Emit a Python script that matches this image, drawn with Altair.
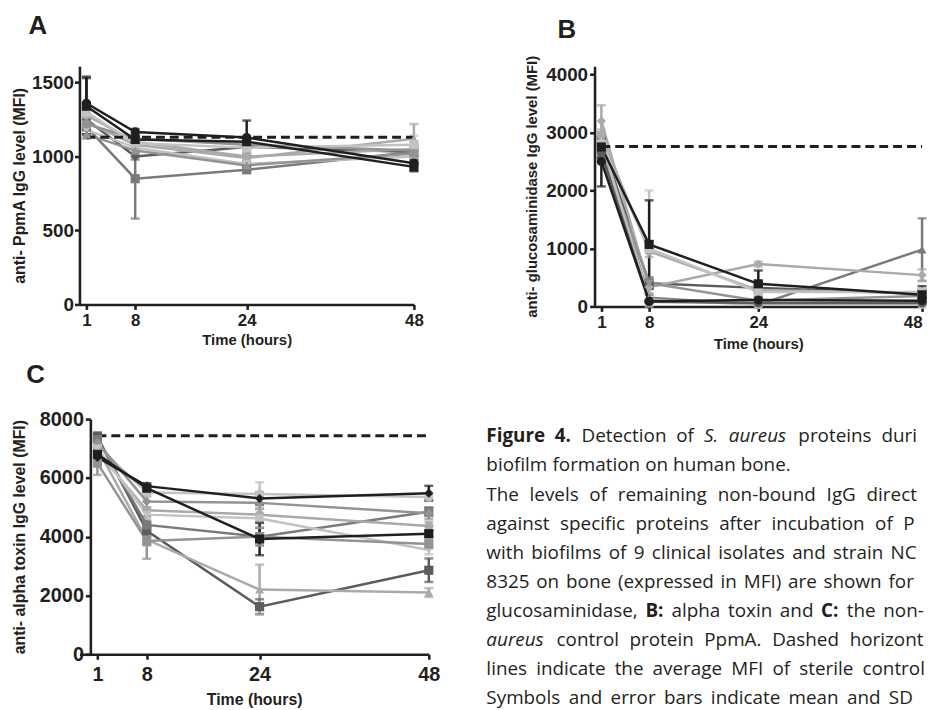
import re
import altair as alt
import pandas as pd

# ------------------------------------------------------------------ data
TIMES = [1, 8, 24, 48]

BLACK = "#1f1f1f"
DARK = "#5c5c5c"
MID = "#7a7a7a"
GRAY = "#939393"
LIGHT = "#aaaaaa"
PALE = "#c2c2c2"

# Panel A: anti-PpmA IgG (MFI)
A_NAMES = [f"A{i}" for i in range(1, 11)]
A_MEANS = [
    [1250, 1000, 1065, 1030],
    [1200, 850, 910, 1030],
    [1280, 1100, 1000, 1050],
    [1230, 1080, 990, 1120],
    [1180, 1060, 950, 1000],
    [1220, 1120, 1080, 1040],
    [1300, 1090, 1060, 1080],
    [1150, 1040, 940, 1020],
    [1340, 1115, 1100, 930],
    [1360, 1166, 1128, 955],
]
A_SDS = [
    [40, 20, 30, 30],
    [50, 270, 20, 40],
    [40, 30, 40, 50],
    [50, 30, 30, 100],
    [30, 30, 30, 30],
    [40, 30, 30, 40],
    [50, 30, 30, 60],
    [30, 40, 30, 60],
    [190, 15, 30, 30],
    [180, 20, 115, 20],
]
A_COLORS = [DARK, MID, LIGHT, LIGHT, PALE, GRAY, PALE, GRAY, BLACK, BLACK]
A_SHAPES = ["diamond", "square", "circle", "triangle-up", "triangle-down",
            "circle", "square", "triangle-up", "square", "circle"]
A_CONTROL = 1130

# Panel B: anti-glucosaminidase IgG (MFI)
B_NAMES = [f"B{i}" for i in range(1, 11)]
B_MEANS = [
    [2850, 400, 320, 220],
    [2900, 150, 30, 980],
    [2950, 950, 280, 230],
    [3200, 330, 730, 540],
    [2800, 1000, 250, 250],
    [2700, 400, 100, 180],
    [2850, 120, 30, 30],
    [2650, 80, 60, 60],
    [2750, 1070, 390, 200],
    [2500, 90, 110, 100],
]
B_SDS = [
    [100, 100, 100, 60],
    [100, 50, 20, 540],
    [100, 100, 60, 60],
    [270, 100, 40, 100],
    [150, 1000, 60, 60],
    [100, 80, 30, 40],
    [80, 30, 20, 20],
    [100, 20, 20, 20],
    [180, 760, 230, 150],
    [430, 20, 30, 20],
]
B_COLORS = [DARK, MID, LIGHT, LIGHT, PALE, GRAY, PALE, DARK, BLACK, BLACK]
B_SHAPES = ["square", "triangle-up", "circle", "diamond", "square",
            "triangle-down", "triangle-up", "circle", "square", "circle"]
B_CONTROL = 2760

# Panel C: anti-alpha toxin IgG (MFI)
C_NAMES = [f"C{i}" for i in range(1, 11)]
C_MEANS = [
    [7400, 4200, 1620, 2860],
    [7000, 3900, 2200, 2100],
    [7300, 4400, 4000, 4850],
    [7100, 5500, 5450, 5350],
    [7200, 5200, 5150, 4800],
    [6900, 4900, 4750, 4360],
    [7000, 4750, 4620, 3550],
    [6500, 3850, 4000, 3750],
    [6800, 5650, 3920, 4100],
    [6700, 5720, 5300, 5480],
]
C_SDS = [
    [150, 200, 250, 400],
    [150, 200, 850, 150],
    [150, 300, 300, 150],
    [150, 150, 400, 100],
    [150, 200, 200, 200],
    [150, 300, 200, 150],
    [200, 150, 150, 150],
    [400, 600, 300, 150],
    [150, 100, 550, 100],
    [150, 100, 200, 250],
]
C_COLORS = [DARK, LIGHT, MID, PALE, GRAY, LIGHT, PALE, GRAY, BLACK, BLACK]
C_SHAPES = ["square", "triangle-up", "square", "circle", "diamond",
            "circle", "triangle-down", "square", "square", "diamond"]
C_CONTROL = 7430

# Caption (**bold**, _italic_), and whether each line is justified
CAPTION_LINES = [
    "**Figure 4.** Detection of _S. aureus_ proteins during",
    "biofilm formation on human bone.",
    "The levels of remaining non-bound IgG directed",
    "against specific proteins after incubation of PHS",
    "with biofilms of 9 clinical isolates and strain NCTC",
    "8325 on bone (expressed in MFI) are shown for **A:**",
    "glucosaminidase, **B:** alpha toxin and **C:** the non-_S._",
    "_aureus_ control protein PpmA. Dashed horizontal",
    "lines indicate the average MFI of sterile controls.",
    "Symbols and error bars indicate mean and SD of",
]
CAPTION_JUSTIFY = [True, False, True, True, True, True, True, True, True, True]

# ------------------------------------------------------------------ styling / layout
FONT = "Liberation Sans"
CAP_FONT = "Open Sans"
CAP_SIZE = 19
INK = "#231f20"

# Open Sans advance widths (units per 2048 em), used to lay out the justified caption
_W = {" ": 532, ".": 545, ",": 502, ":": 545, "-": 659, "(": 596, ")": 596}
_W.update({d: 1171 for d in "0123456789"})
_W.update(dict(zip("abcdefghijklmnopqrstuvwxyz",
                   [1139, 1255, 975, 1255, 1149, 694, 1122, 1257, 518, 518, 1075, 518, 1905,
                    1257, 1237, 1255, 1255, 836, 977, 723, 1257, 1026, 1593, 1073, 1028, 977])))
_W.update(dict(zip("ABCDEFGHIJKLMNOPQRSTUVWXYZ",
                   [1296, 1327, 1292, 1493, 1139, 1057, 1491, 1511, 571, 547, 1257, 1071, 1849,
                    1544, 1595, 1233, 1595, 1266, 1124, 1133, 1491, 1219, 1896, 1182, 1147, 1169])))
STYLE_FACTOR = {"normal": 1.0, "bold": 1.07, "italic": 0.98}


def text_width(s, style):
    return sum(_W.get(ch, 1150) for ch in s) / 2048 * CAP_SIZE * STYLE_FACTOR[style]


CAP_WIDTH = 456     # justified column width (the column runs past the picture edge)
CAP_BOX_W = 447     # visible part of the caption panel
CAP_BASE0 = 23.5    # first baseline below the panel top
LINE_H = 29.3


def parse_words(line):
    words, cur = [], []
    for m in re.finditer(r"\*\*(.+?)\*\*|_(.+?)_|([^*_]+)", line):
        if m.group(1) is not None:
            txt, st = m.group(1), "bold"
        elif m.group(2) is not None:
            txt, st = m.group(2), "italic"
        else:
            txt, st = m.group(3), "normal"
        for k, p in enumerate(txt.split(" ")):
            if k > 0 and cur:
                words.append(cur)
                cur = []
            if p:
                cur.append((p, st))
    if cur:
        words.append(cur)
    return words


cap_recs = []
space = text_width(" ", "normal")
for i, (line, just) in enumerate(zip(CAPTION_LINES, CAPTION_JUSTIFY)):
    words = parse_words(line)
    widths = [sum(text_width(t, s) for t, s in w) for w in words]
    gap = space
    if just and len(words) > 1:
        gap = max(space * 0.8, (CAP_WIDTH - sum(widths)) / (len(words) - 1))
    x = 0.0
    for w, wd in zip(words, widths):
        px = x
        for t, s in w:
            if px < CAP_BOX_W - 4:
                cap_recs.append({"text": t, "style": s, "px": px,
                                 "py": CAP_BASE0 + i * LINE_H,
                                 "lim": CAP_BOX_W - px})
            px += text_width(t, s)
        x += wd + gap
cap_df = pd.DataFrame(cap_recs)


def panel(names, means, sds, colors, shapes, control, xmin, ymax, yvals, ytitle, sty):
    recs = []
    for n, m, s, c in zip(names, means, sds, colors):
        for t, v, e in zip(TIMES, m, s):
            recs.append({"series": n, "time": t, "value": v,
                         "lo": max(v - e, 0), "hi": v + e, "top": c == BLACK})
    df = pd.DataFrame(recs)
    caps = pd.concat([df.assign(cap=df["lo"]), df.assign(cap=df["hi"])])
    ctrl = pd.DataFrame({"t0": [TIMES[0]], "t1": [TIMES[-1]], "ctrl": [control]})

    common = dict(domainColor=INK, domainWidth=2.6, tickColor=INK, tickWidth=2.6,
                  tickSize=5, grid=False, labelFont=FONT, labelFontWeight="bold",
                  labelColor=INK, titleFont=FONT, titleFontWeight="bold",
                  titleColor=INK)
    xax = alt.Axis(values=TIMES, title="Time (hours)", labelFontSize=sty["xl"],
                   titleFontSize=sty["xt"], labelPadding=sty["xlp"],
                   titlePadding=sty["xtp"], labelFlush=sty["flush"], format="d", **common)
    yax = alt.Axis(values=yvals, title=ytitle, labelFontSize=sty["yl"],
                   titleFontSize=sty["yt"], labelPadding=sty["ylp"],
                   titlePadding=sty["ytp"], labelFlush=False, format="d",
                   offset=sty["yoff"], **common)
    xs = alt.Scale(domain=[xmin, 48], nice=False, zero=False)
    ys = alt.Scale(domain=[0, ymax], nice=False)
    col = alt.Color("series:N", scale=alt.Scale(domain=names, range=colors), legend=None)
    shp = alt.Shape("series:N", scale=alt.Scale(domain=names, range=shapes), legend=None)
    X = alt.X("time:Q", scale=xs, axis=xax)

    dashed = alt.Chart(ctrl).mark_rule(strokeDash=[9, 5], strokeWidth=3, color=BLACK).encode(
        x=alt.X("t0:Q", scale=xs, axis=xax), x2="t1:Q",
        y=alt.Y("ctrl:Q", scale=ys, axis=yax))
    err = alt.Chart(df).mark_rule(strokeWidth=2.5).encode(
        x=X, y=alt.Y("lo:Q", scale=ys, axis=yax), y2="hi:Q", color=col)
    cap = alt.Chart(caps).mark_tick(orient="horizontal", size=9, thickness=2.5).encode(
        x=X, y=alt.Y("cap:Q", scale=ys, axis=yax), color=col)
    base = alt.Chart(df).encode(x=X, y=alt.Y("value:Q", scale=ys, axis=yax), color=col)
    lines_g = base.transform_filter("!datum.top").mark_line(strokeWidth=2.5)
    lines_b = base.transform_filter("datum.top").mark_line(strokeWidth=2.5)
    pts = base.mark_point(filled=True, size=85, opacity=1).encode(shape=shp)
    return alt.layer(err, cap, lines_g, dashed, lines_b, pts)


def letter_title(letter, sty):
    return alt.TitleParams(text=letter, anchor="start", frame="bounds",
                           dx=sty["dx"], offset=sty["off"], fontSize=26,
                           font=FONT, fontWeight="bold", color=INK)


STY_A = dict(xl=17, xt=15, xlp=3, xtp=4, yl=19, yt=16, ylp=1, ytp=4, yoff=0,
             dx=17, off=28, flush=False)
STY_B = dict(xl=17, xt=15, xlp=3, xtp=6, yl=19, yt=15, ylp=2, ytp=6, yoff=0,
             dx=33, off=12.5, flush=True)
STY_C = dict(xl=20, xt=16, xlp=5, xtp=8, yl=20, yt=16, ylp=2, ytp=12, yoff=-11,
             dx=15, off=21.7, flush=False)

chart_a = panel(A_NAMES, A_MEANS, A_SDS, A_COLORS, A_SHAPES, A_CONTROL, 0, 1610,
                [0, 500, 1000, 1500], "anti- PpmA IgG level (MFI)", STY_A).properties(
    width=337, height=240, title=letter_title("A", STY_A))
chart_b = panel(B_NAMES, B_MEANS, B_SDS, B_COLORS, B_SHAPES, B_CONTROL, 0, 4142,
                [0, 1000, 2000, 3000, 4000], "anti- glucosaminidase IgG level (MFI)",
                STY_B).properties(width=330, height=242, title=letter_title("B", STY_B))
chart_c = panel(C_NAMES, C_MEANS, C_SDS, C_COLORS, C_SHAPES, C_CONTROL, -1.55, 8000,
                [0, 2000, 4000, 6000, 8000], "anti- alpha toxin IgG level (MFI)",
                STY_C).properties(width=352, height=237, title=letter_title("C", STY_C))

cap_base = alt.Chart(cap_df).encode(
    x=alt.X("px:Q", scale=None, axis=None),
    y=alt.Y("py:Q", scale=None, axis=None),
    text="text:N")
kw = dict(align="left", baseline="alphabetic", font=CAP_FONT, fontSize=CAP_SIZE,
          color=INK, clip=True, limit={"expr": "datum.lim"}, ellipsis=" ")
cap_normal = cap_base.transform_filter("datum.style == 'normal'").mark_text(**kw)
cap_bold = cap_base.transform_filter("datum.style == 'bold'").mark_text(fontWeight="bold", **kw)
cap_ital = cap_base.transform_filter("datum.style == 'italic'").mark_text(fontStyle="italic", **kw)
caption = alt.layer(cap_normal, cap_bold, cap_ital).properties(width=CAP_BOX_W, height=300)

top = alt.hconcat(chart_a, chart_b, spacing=101).resolve_scale(
    x="independent", y="independent", color="independent", shape="independent")
bottom = alt.hconcat(chart_c, caption, spacing=46).resolve_scale(
    x="independent", y="independent", color="independent", shape="independent")

chart = alt.vconcat(top, bottom, spacing=10.5).resolve_scale(
    x="independent", y="independent", color="independent", shape="independent"
).properties(
    padding={"left": 3, "top": 2, "right": 0, "bottom": 0},
    background="white",
).configure_view(stroke=None)

chart.save("out.html", embed_options={"renderer": "svg", "actions": False})
